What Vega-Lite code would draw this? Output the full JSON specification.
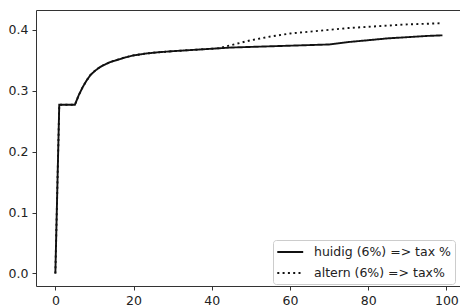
{
  "$schema": "https://vega.github.io/schema/vega-lite/v6.json",
  "autosize": "none",
  "width": 424,
  "height": 276,
  "padding": {"left": 36, "top": 10, "right": 0, "bottom": 20},
  "background": "white",
  "config": {
    "view": {"stroke": "#333", "strokeWidth": 1},
    "font": "DejaVu Sans",
    "axis": {
      "domain": false,
      "grid": false,
      "tickColor": "#333",
      "tickSize": 4,
      "labelColor": "#222",
      "labelFont": "DejaVu Sans",
      "labelFontSize": 12.5,
      "labelPadding": 4,
      "title": null
    }
  },
  "data": {
    "values": [
      {"x": 0, "y": 0, "s": "huidig (6%) => tax %"},
      {"x": 1, "y": 0.277, "s": "huidig (6%) => tax %"},
      {"x": 5, "y": 0.277, "s": "huidig (6%) => tax %"},
      {"x": 6, "y": 0.293, "s": "huidig (6%) => tax %"},
      {"x": 7, "y": 0.306, "s": "huidig (6%) => tax %"},
      {"x": 8, "y": 0.317, "s": "huidig (6%) => tax %"},
      {"x": 9, "y": 0.326, "s": "huidig (6%) => tax %"},
      {"x": 10, "y": 0.332, "s": "huidig (6%) => tax %"},
      {"x": 11, "y": 0.337, "s": "huidig (6%) => tax %"},
      {"x": 12, "y": 0.341, "s": "huidig (6%) => tax %"},
      {"x": 14, "y": 0.347, "s": "huidig (6%) => tax %"},
      {"x": 16, "y": 0.351, "s": "huidig (6%) => tax %"},
      {"x": 18, "y": 0.355, "s": "huidig (6%) => tax %"},
      {"x": 20, "y": 0.358, "s": "huidig (6%) => tax %"},
      {"x": 23, "y": 0.361, "s": "huidig (6%) => tax %"},
      {"x": 26, "y": 0.363, "s": "huidig (6%) => tax %"},
      {"x": 30, "y": 0.365, "s": "huidig (6%) => tax %"},
      {"x": 35, "y": 0.367, "s": "huidig (6%) => tax %"},
      {"x": 40, "y": 0.369, "s": "huidig (6%) => tax %"},
      {"x": 45, "y": 0.371, "s": "huidig (6%) => tax %"},
      {"x": 50, "y": 0.372, "s": "huidig (6%) => tax %"},
      {"x": 55, "y": 0.373, "s": "huidig (6%) => tax %"},
      {"x": 60, "y": 0.374, "s": "huidig (6%) => tax %"},
      {"x": 65, "y": 0.375, "s": "huidig (6%) => tax %"},
      {"x": 70, "y": 0.376, "s": "huidig (6%) => tax %"},
      {"x": 75, "y": 0.380, "s": "huidig (6%) => tax %"},
      {"x": 80, "y": 0.383, "s": "huidig (6%) => tax %"},
      {"x": 85, "y": 0.386, "s": "huidig (6%) => tax %"},
      {"x": 90, "y": 0.388, "s": "huidig (6%) => tax %"},
      {"x": 95, "y": 0.390, "s": "huidig (6%) => tax %"},
      {"x": 99, "y": 0.391, "s": "huidig (6%) => tax %"},
      {"x": 0, "y": 0, "s": "altern (6%) => tax%"},
      {"x": 1, "y": 0.277, "s": "altern (6%) => tax%"},
      {"x": 5, "y": 0.277, "s": "altern (6%) => tax%"},
      {"x": 6, "y": 0.293, "s": "altern (6%) => tax%"},
      {"x": 7, "y": 0.306, "s": "altern (6%) => tax%"},
      {"x": 8, "y": 0.317, "s": "altern (6%) => tax%"},
      {"x": 9, "y": 0.326, "s": "altern (6%) => tax%"},
      {"x": 10, "y": 0.332, "s": "altern (6%) => tax%"},
      {"x": 11, "y": 0.337, "s": "altern (6%) => tax%"},
      {"x": 12, "y": 0.341, "s": "altern (6%) => tax%"},
      {"x": 14, "y": 0.347, "s": "altern (6%) => tax%"},
      {"x": 16, "y": 0.351, "s": "altern (6%) => tax%"},
      {"x": 18, "y": 0.355, "s": "altern (6%) => tax%"},
      {"x": 20, "y": 0.358, "s": "altern (6%) => tax%"},
      {"x": 23, "y": 0.361, "s": "altern (6%) => tax%"},
      {"x": 26, "y": 0.363, "s": "altern (6%) => tax%"},
      {"x": 30, "y": 0.365, "s": "altern (6%) => tax%"},
      {"x": 35, "y": 0.367, "s": "altern (6%) => tax%"},
      {"x": 40, "y": 0.369, "s": "altern (6%) => tax%"},
      {"x": 42, "y": 0.370, "s": "altern (6%) => tax%"},
      {"x": 45, "y": 0.375, "s": "altern (6%) => tax%"},
      {"x": 50, "y": 0.383, "s": "altern (6%) => tax%"},
      {"x": 55, "y": 0.389, "s": "altern (6%) => tax%"},
      {"x": 60, "y": 0.394, "s": "altern (6%) => tax%"},
      {"x": 65, "y": 0.397, "s": "altern (6%) => tax%"},
      {"x": 70, "y": 0.400, "s": "altern (6%) => tax%"},
      {"x": 75, "y": 0.403, "s": "altern (6%) => tax%"},
      {"x": 80, "y": 0.405, "s": "altern (6%) => tax%"},
      {"x": 85, "y": 0.407, "s": "altern (6%) => tax%"},
      {"x": 90, "y": 0.409, "s": "altern (6%) => tax%"},
      {"x": 95, "y": 0.410, "s": "altern (6%) => tax%"},
      {"x": 99, "y": 0.411, "s": "altern (6%) => tax%"}
    ]
  },
  "mark": {"type": "line", "color": "#111", "strokeWidth": 1.9, "interpolate": "linear"},
  "encoding": {
    "x": {
      "field": "x",
      "type": "quantitative",
      "scale": {"domain": [-4.95, 103.49], "nice": false, "zero": false},
      "axis": {"values": [0, 20, 40, 60, 80, 100], "format": "d"}
    },
    "y": {
      "field": "y",
      "type": "quantitative",
      "scale": {"domain": [-0.0206, 0.4326], "nice": false, "zero": false},
      "axis": {"values": [0, 0.1, 0.2, 0.3, 0.4], "format": ".1f"}
    },
    "strokeDash": {
      "field": "s",
      "type": "nominal",
      "scale": {
        "domain": ["huidig (6%) => tax %", "altern (6%) => tax%"],
        "range": [[1, 0], [2, 3.3]]
      },
      "legend": {
        "title": null,
        "orient": "none",
        "legendX": 237,
        "legendY": 230,
        "padding": 4,
        "symbolType": "M-1.1,0H2.6",
        "symbolSize": 196,
        "symbolStrokeColor": "#111",
        "symbolStrokeWidth": 1.9,
        "labelFont": "DejaVu Sans",
        "labelFontSize": 12.5,
        "labelColor": "#222",
        "labelOffset": 21,
        "rowPadding": 6,
        "strokeColor": "#ccc",
        "fillColor": "rgba(255,255,255,0.8)",
        "cornerRadius": 3
      }
    },
    "order": {"field": "x", "type": "quantitative"}
  }
}
